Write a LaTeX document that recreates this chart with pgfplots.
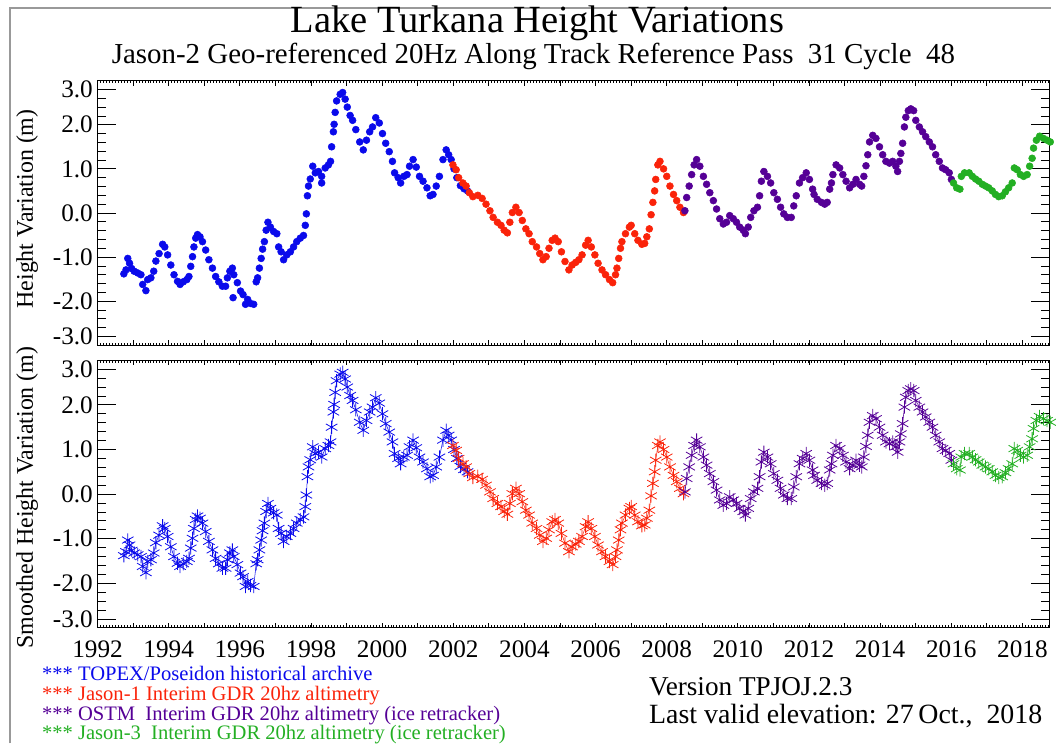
\documentclass[border=0pt]{standalone}
\usepackage{fontspec}
\setmainfont{Liberation Serif}
\usepackage{pgfplots}
\pgfplotsset{compat=1.18}
\usepackage{pgfplotstable}

\definecolor{tpblue}{RGB}{10,10,235}
\definecolor{jared}{RGB}{250,35,10}
\definecolor{ostm}{RGB}{85,0,150}
\definecolor{jgreen}{RGB}{35,175,35}

\pgfplotstableread{
x y
1992.74 -1.38
1992.80 -1.29
1992.85 -1.03
1992.90 -1.14
1992.96 -1.26
1993.03 -1.32
1993.13 -1.36
1993.22 -1.40
1993.27 -1.62
1993.36 -1.76
1993.41 -1.51
1993.50 -1.47
1993.58 -1.32
1993.64 -1.09
1993.73 -0.92
1993.83 -0.71
1993.89 -0.77
1993.97 -0.95
1994.06 -1.18
1994.15 -1.40
1994.25 -1.55
1994.32 -1.62
1994.41 -1.56
1994.51 -1.51
1994.57 -1.44
1994.62 -1.21
1994.67 -0.99
1994.71 -0.77
1994.76 -0.57
1994.81 -0.49
1994.88 -0.54
1994.95 -0.65
1995.04 -0.84
1995.13 -1.06
1995.23 -1.25
1995.32 -1.44
1995.41 -1.56
1995.51 -1.66
1995.60 -1.66
1995.65 -1.47
1995.72 -1.32
1995.79 -1.25
1995.83 -1.40
1995.93 -1.58
1996.02 -1.77
1996.09 -1.85
1996.16 -2.07
1996.22 -1.96
1996.30 -2.05
1996.39 -2.07
1996.46 -1.56
1996.50 -1.47
1996.55 -1.25
1996.60 -1.03
1996.64 -0.82
1996.69 -0.65
1996.74 -0.39
1996.79 -0.21
1996.86 -0.32
1996.95 -0.42
1997.04 -0.47
1997.09 -0.77
1997.16 -0.88
1997.23 -1.06
1997.32 -0.95
1997.42 -0.88
1997.51 -0.77
1997.60 -0.65
1997.70 -0.57
1997.79 -0.51
1997.84 -0.28
1997.87 -0.02
1997.90 0.39
1997.93 0.61
1997.98 0.77
1998.05 1.06
1998.12 0.91
1998.21 0.94
1998.30 0.83
1998.40 1.02
1998.49 1.09
1998.55 1.17
1998.58 1.50
1998.63 1.84
1998.65 2.01
1998.68 2.28
1998.72 2.54
1998.82 2.69
1998.89 2.73
1998.96 2.58
1999.02 2.40
1999.10 2.21
1999.17 2.10
1999.26 1.89
1999.37 1.61
1999.47 1.43
1999.56 1.65
1999.65 1.84
1999.73 1.95
1999.82 2.16
1999.92 2.04
2000.01 1.80
2000.10 1.58
2000.20 1.39
2000.29 1.17
2000.35 0.91
2000.45 0.80
2000.52 0.68
2000.61 0.83
2000.70 0.87
2000.77 1.06
2000.87 1.21
2000.96 1.04
2001.05 0.83
2001.15 0.72
2001.26 0.57
2001.35 0.39
2001.43 0.42
2001.52 0.61
2001.61 0.83
2001.71 1.21
2001.80 1.43
2001.87 1.32
2001.94 1.21
2002.02 1.00
2002.10 0.80
2002.20 0.62
2002.30 0.55
2002.40 0.50
}\tpdata

\pgfplotstableread{
x y
1995.81 -1.92
1998.30 0.68
}\tpout

\pgfplotstableread{
x y
2001.99 1.09
2002.08 0.98
2002.15 0.80
2002.27 0.68
2002.36 0.61
2002.45 0.46
2002.55 0.37
2002.69 0.40
2002.81 0.33
2002.92 0.20
2003.03 0.05
2003.12 -0.10
2003.24 -0.21
2003.34 -0.28
2003.43 -0.39
2003.52 -0.45
2003.59 -0.21
2003.66 0.01
2003.76 0.13
2003.85 0.01
2003.94 -0.17
2004.04 -0.36
2004.13 -0.47
2004.22 -0.65
2004.34 -0.77
2004.43 -0.92
2004.52 -1.06
2004.61 -0.99
2004.69 -0.80
2004.78 -0.62
2004.86 -0.57
2004.95 -0.65
2005.04 -0.88
2005.14 -1.10
2005.25 -1.29
2005.34 -1.18
2005.44 -1.12
2005.53 -1.06
2005.62 -0.95
2005.72 -0.73
2005.79 -0.62
2005.88 -0.77
2005.98 -0.95
2006.07 -1.14
2006.18 -1.29
2006.28 -1.40
2006.39 -1.51
2006.48 -1.58
2006.56 -1.40
2006.60 -1.25
2006.65 -1.03
2006.70 -0.80
2006.74 -0.65
2006.84 -0.47
2006.95 -0.32
2007.00 -0.28
2007.10 -0.47
2007.19 -0.62
2007.30 -0.71
2007.38 -0.69
2007.44 -0.54
2007.51 -0.36
2007.56 -0.04
2007.61 0.24
2007.66 0.50
2007.69 0.76
2007.75 1.09
2007.81 1.17
2007.91 1.00
2008.00 0.83
2008.09 0.61
2008.19 0.42
2008.28 0.28
2008.37 0.13
2008.47 0.01
}\jadata

\pgfplotstableread{
x y
2008.51 0.05
2008.56 0.35
2008.63 0.61
2008.70 0.87
2008.77 1.09
2008.84 1.21
2008.93 1.06
2009.03 0.83
2009.12 0.65
2009.21 0.46
2009.31 0.28
2009.40 0.09
2009.49 -0.13
2009.59 -0.25
2009.68 -0.21
2009.77 -0.06
2009.87 -0.13
2009.96 -0.21
2010.05 -0.32
2010.15 -0.39
2010.21 -0.47
2010.29 -0.32
2010.36 -0.10
2010.45 0.05
2010.55 0.13
2010.61 0.39
2010.66 0.72
2010.73 0.94
2010.83 0.83
2010.92 0.68
2011.01 0.46
2011.11 0.31
2011.20 0.13
2011.29 -0.02
2011.39 -0.10
2011.50 -0.10
2011.57 0.16
2011.64 0.39
2011.73 0.68
2011.82 0.80
2011.92 0.91
2012.01 0.76
2012.10 0.54
2012.14 0.42
2012.23 0.31
2012.35 0.24
2012.44 0.20
2012.51 0.24
2012.58 0.54
2012.63 0.68
2012.67 0.87
2012.76 1.09
2012.86 1.02
2012.95 0.87
2013.04 0.72
2013.14 0.57
2013.23 0.65
2013.32 0.76
2013.42 0.65
2013.48 0.61
2013.54 0.83
2013.60 1.07
2013.65 1.32
2013.70 1.61
2013.79 1.76
2013.88 1.69
2013.98 1.50
2014.07 1.32
2014.16 1.17
2014.26 1.13
2014.35 1.17
2014.44 1.06
2014.49 0.94
2014.54 1.17
2014.58 1.35
2014.63 1.58
2014.68 1.95
2014.72 2.17
2014.79 2.32
2014.86 2.36
2014.94 2.32
2015.00 2.10
2015.10 1.95
2015.19 1.84
2015.28 1.73
2015.38 1.61
2015.47 1.50
2015.56 1.32
2015.66 1.17
2015.75 1.02
2015.84 0.98
2015.94 0.91
2016.00 0.76
}\osdata

\pgfplotstableread{
x y
2016.06 0.68
2016.15 0.57
2016.24 0.54
2016.28 0.83
2016.37 0.91
2016.50 0.91
2016.59 0.83
2016.68 0.77
2016.77 0.72
2016.87 0.65
2016.96 0.61
2017.05 0.57
2017.15 0.50
2017.24 0.42
2017.33 0.37
2017.43 0.39
2017.52 0.48
2017.61 0.57
2017.71 0.68
2017.77 1.02
2017.85 0.98
2017.94 0.87
2018.03 0.83
2018.13 0.87
2018.20 1.06
2018.27 1.24
2018.31 1.47
2018.39 1.65
2018.48 1.74
2018.59 1.69
2018.69 1.65
2018.78 1.61
}\jgdata

\pgfplotsset{
  turk/.style={
    scale only axis, width=717.75pt,
    xmin=1992, xmax=2018.77, ymin=-3, ymax=3,
    axis line style={black, line width=0.8pt},
    xtick={1992,...,2018},
    minor xtick={1992,1992.08333,...,2018.77},
    ytick={-2.8,-2,-1,0,1,2,2.8},
    yticklabels={-3.0,-2.0,-1.0,0.0,1.0,2.0,3.0},
    minor ytick={-2.6,-2.4,...,2.65},
    tick style={black, line width=0.6pt},
    major x tick style={/pgfplots/major tick length=3.75pt},
    minor x tick style={/pgfplots/minor tick length=1.9pt},
    major y tick style={/pgfplots/major tick length=14pt},
    minor y tick style={/pgfplots/minor tick length=6.75pt},
    tick label style={font=\fontsize{19}{19}\selectfont},
    xticklabel style={yshift=-8.5pt, inner sep=1pt},
    /pgf/number format/assume math mode=true,
    clip=false,
  },
  dots/.style={only marks, mark=*, mark size=2.6pt},
  stars/.style={line width=0.4pt, mark=asterisk, mark size=5pt, mark options={line width=0.6pt}},
}

\begin{document}
\begin{tikzpicture}
\begin{scope}[x=0.75pt,y=-0.75pt]
\path[use as bounding box] (0,0) rectangle (1056,747);
\draw[gray!80, line width=1.5pt] (10,747) -- (10,8) -- (1056,8);
\node[anchor=base, inner sep=0pt, font=\fontsize{29}{29}\selectfont] at (540,33) {Lake Turkana Height Variations};
\node[anchor=base, inner sep=0pt, font=\fontsize{21.8}{21.8}\selectfont] at (536,64) {Jason-2 Geo-referenced 20Hz Along Track Reference Pass\ \ 31 Cycle\ \ 48};
\node[anchor=base, rotate=90, font=\fontsize{18}{18}\selectfont] at (33,210) {Height Variation (m)};
\node[anchor=base, rotate=90, font=\fontsize{18}{18}\selectfont] at (33,500) {Smoothed Height Variation (m)};
\node[anchor=base west, inner sep=0pt, font=\fontsize{15.5}{15.5}\selectfont, text=tpblue] at (42,684) {*** TOPEX/Poseidon historical archive};
\node[anchor=base west, inner sep=0pt, font=\fontsize{15.5}{15.5}\selectfont, text=jared] at (42,704) {*** Jason-1 Interim GDR 20hz altimetry};
\node[anchor=base west, inner sep=0pt, font=\fontsize{15.5}{15.5}\selectfont, text=ostm] at (42,724) {*** OSTM\ \ Interim GDR 20hz altimetry (ice retracker)};
\node[anchor=base west, inner sep=0pt, font=\fontsize{15.5}{15.5}\selectfont, text=jgreen] at (42,743) {*** Jason-3\ \ Interim GDR 20hz altimetry (ice retracker)};
\node[anchor=base west, inner sep=0pt, font=\fontsize{20.5}{20.5}\selectfont] at (652,699) {Version TPJOJ.2.3};
\node[anchor=base west, inner sep=0pt, font=\fontsize{21}{21}\selectfont] at (652,727) {Last valid elevation: 27\,Oct.,\ \ 2018};
\end{scope}

\begin{axis}[turk, at={(73.5pt,-260.25pt)}, anchor=south west, height=199.5pt,
  xticklabels={}]
\addplot[dots, color=tpblue] table {\tpdata};
\addplot[dots, color=tpblue] table {\tpout};
\addplot[dots, color=jared] table {\jadata};
\addplot[dots, color=ostm] table {\osdata};
\addplot[dots, color=jgreen] table {\jgdata};
\end{axis}

\begin{axis}[turk, at={(73.5pt,-473.25pt)}, anchor=south west, height=201.75pt,
  xticklabels={1992,,1994,,1996,,1998,,2000,,2002,,2004,,2006,,2008,,2010,,2012,,2014,,2016,,2018}]
\addplot[stars, color=tpblue] table {\tpdata};
\addplot[stars, color=jared] table {\jadata};
\addplot[stars, color=ostm] table {\osdata};
\addplot[stars, color=jgreen] table {\jgdata};
\end{axis}
\end{tikzpicture}
\end{document}
